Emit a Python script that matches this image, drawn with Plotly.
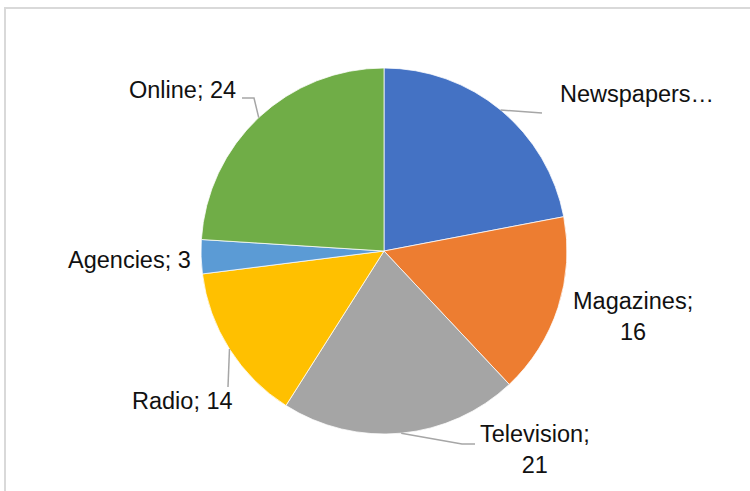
import math
import plotly.graph_objects as go

# Media outlet counts, clockwise from 12 o'clock
categories = ["Newspapers", "Magazines", "Television", "Radio", "Agencies", "Online"]
values = [22, 16, 21, 14, 3, 24]
colors = ["#4472C4", "#ED7D31", "#A5A5A5", "#FFC000", "#5B9BD5", "#70AD47"]

# Label text (the newspapers label is clipped by the chart area)
label_texts = {
    "Newspapers": "Newspapers…",
    "Magazines": "Magazines;<br>16",
    "Television": "Television;<br>21",
    "Radio": "Radio; 14",
    "Agencies": "Agencies; 3",
    "Online": "Online; 24",
}

W, H = 750, 491
CX, CY, R = 384, 251, 183  # pie centre and radius in pixels


def px(x):
    return x / W


def py(y):
    return 1 - y / H


fig = go.Figure(
    go.Pie(
        labels=categories,
        values=values,
        sort=False,
        direction="clockwise",
        rotation=0,
        marker=dict(colors=colors, line=dict(color="white", width=0.75)),
        textinfo="none",
        hoverinfo="label+value",
        showlegend=False,
        domain=dict(x=[px(CX - R), px(CX + R)], y=[py(CY + R), py(CY - R)]),
    )
)

# Mid-angle of each slice (degrees clockwise from top) and its point on the rim
total = sum(values)
edge = {}
cum = 0
for name, v in zip(categories, values):
    mid = (cum + v / 2) / total * 2 * math.pi
    edge[name] = (CX + R * math.sin(mid), CY - R * math.cos(mid))
    cum += v

# Label placement (pixel centres) and leader-line elbows
label_pos = {
    "Newspapers": (637, 94),
    "Magazines": (633, 316),
    "Television": (535, 449),
    "Radio": (182, 401),
    "Agencies": (129, 260),
    "Online": (182, 90),
}
leader_pts = {
    "Newspapers": [(542, 113)],
    "Online": [(254, 98), (242, 98)],
    "Television": [(462, 444), (475, 444)],
    "Radio": [(228, 387)],
}

shapes = []
for name, pts in leader_pts.items():
    x0, y0 = edge[name]
    path = f"M {px(x0)} {py(y0)}"
    for (x, y) in pts:
        path += f" L {px(x)} {py(y)}"
    shapes.append(dict(type="path", xref="paper", yref="paper", path=path,
                       line=dict(color="#A6A6A6", width=1.5)))

# Chart-area frame
shapes.append(dict(type="rect", xref="paper", yref="paper",
                   x0=px(5), x1=1.02, y0=-0.02, y1=py(8),
                   line=dict(color="#D9D9D9", width=2), layer="below"))

annotations = []
for name in categories:
    x, y = label_pos[name]
    annotations.append(dict(
        x=px(x), y=py(y), xref="paper", yref="paper",
        text=label_texts[name], showarrow=False, align="center",
        xanchor="center", yanchor="middle",
        font=dict(family="Liberation Sans, Arial, sans-serif", size=23.5, color="#111111"),
    ))

fig.update_layout(
    width=W, height=H,
    margin=dict(l=0, r=0, t=0, b=0),
    paper_bgcolor="white",
    plot_bgcolor="white",
    shapes=shapes,
    annotations=annotations,
)

fig.write_html("out.html")
